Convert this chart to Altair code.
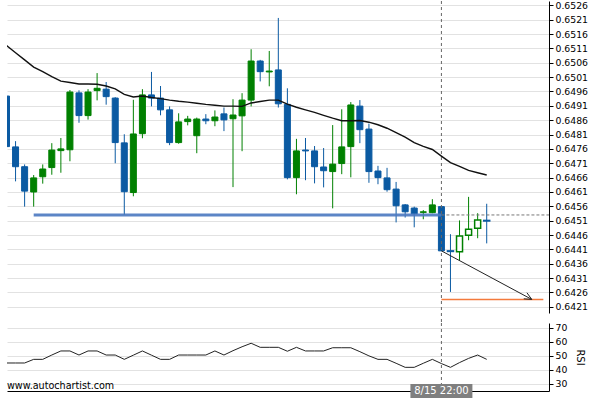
import altair as alt
import pandas as pd

# ---- data ----
opens = [0.64944, 0.64767, 0.64698, 0.64610, 0.64663, 0.64695, 0.64754, 0.64757, 0.64955, 0.64876,
         0.64963, 0.64968, 0.64937, 0.64781, 0.64608, 0.64813, 0.64948, 0.64937, 0.64896, 0.64782,
         0.64855, 0.64806, 0.64864, 0.64858, 0.64882, 0.64865, 0.64875, 0.64930, 0.65066, 0.65028,
         0.65035, 0.64915, 0.64660, 0.64756, 0.64753, 0.64697, 0.64681, 0.64709, 0.64768, 0.64909,
         0.64829, 0.64683, 0.64659, 0.64620, 0.64565, 0.64554, 0.64539, 0.64538, 0.64559, 0.64405,
         0.64402, 0.64459, 0.64484, 0.64511]
closes = [0.64768, 0.64698, 0.64613, 0.64659, 0.64690, 0.64756, 0.64760, 0.64958, 0.64876, 0.64958,
          0.64971, 0.64942, 0.64782, 0.64611, 0.64812, 0.64948, 0.64937, 0.64896, 0.64782, 0.64854,
          0.64864, 0.64864, 0.64858, 0.64871, 0.64861, 0.64878, 0.64930, 0.65066, 0.65029, 0.65031,
          0.64917, 0.64660, 0.64753, 0.64753, 0.64698, 0.64684, 0.64707, 0.64767, 0.64913, 0.64827,
          0.64681, 0.64660, 0.64618, 0.64562, 0.64541, 0.64534, 0.64541, 0.64565, 0.64405, 0.64403,
          0.64457, 0.64480, 0.64512, 0.64509]
highs = [0.64946, 0.64787, 0.64706, 0.64669, 0.64706, 0.64780, 0.64798, 0.64965, 0.64964, 0.64968,
         0.65024, 0.64993, 0.64940, 0.64811, 0.64931, 0.64968, 0.65028, 0.64979, 0.64908, 0.64884,
         0.64875, 0.64869, 0.64881, 0.64894, 0.64904, 0.64933, 0.64954, 0.65107, 0.65070, 0.65101,
         0.65216, 0.64971, 0.64795, 0.64798, 0.64770, 0.64763, 0.64843, 0.64898, 0.64923, 0.64930,
         0.64848, 0.64701, 0.64694, 0.64645, 0.64568, 0.64559, 0.64547, 0.64585, 0.64559, 0.64463,
         0.64511, 0.64593, 0.64536, 0.64569]
lows = [0.64766, 0.64647, 0.64559, 0.64559, 0.64639, 0.64670, 0.64677, 0.64717, 0.64851, 0.64862,
        0.64929, 0.64914, 0.64710, 0.64530, 0.64595, 0.64797, 0.64908, 0.64877, 0.64773, 0.64778,
        0.64842, 0.64745, 0.64846, 0.64839, 0.64822, 0.64627, 0.64752, 0.64908, 0.64995, 0.64978,
        0.64904, 0.64654, 0.64602, 0.64651, 0.64640, 0.64626, 0.64553, 0.64672, 0.64661, 0.64780,
        0.64642, 0.64637, 0.64611, 0.64504, 0.64521, 0.64487, 0.64515, 0.64536, 0.64405, 0.64262,
        0.64372, 0.64442, 0.64449, 0.64431]
moving_avg = [0.65120, 0.65095, 0.65070, 0.65045, 0.65029, 0.65012, 0.64996, 0.64991, 0.64986, 0.64986,
              0.64985, 0.64979, 0.64969, 0.64950, 0.64941, 0.64944, 0.64939, 0.64935, 0.64930, 0.64926,
              0.64923, 0.64919, 0.64915, 0.64912, 0.64909, 0.64909, 0.64908, 0.64920, 0.64925, 0.64930,
              0.64930, 0.64916, 0.64905, 0.64896, 0.64887, 0.64877, 0.64867, 0.64858, 0.64858, 0.64859,
              0.64853, 0.64844, 0.64832, 0.64817, 0.64801, 0.64782, 0.64769, 0.64758, 0.64735, 0.64712,
              0.64699, 0.64685, 0.64677, 0.64669]
rsi = [45.0, 45.0, 45.0, 47.6, 47.6, 50.7, 53.6, 53.6, 50.7, 53.6,
       53.6, 50.7, 50.7, 47.6, 50.6, 53.6, 50.6, 47.6, 47.6, 50.7,
       50.7, 50.7, 50.7, 53.6, 50.7, 53.8, 56.6, 59.1, 56.2, 56.2,
       56.2, 53.4, 56.2, 53.6, 53.6, 53.6, 55.9, 55.9, 55.9, 53.1,
       50.1, 47.6, 47.6, 44.8, 41.9, 41.9, 44.8, 47.6, 44.6, 41.9,
       45.3, 48.3, 50.7, 47.6]

signal_index = 48
time_label = "8/15 22:00"
support_level = 0.64530
support_start = 3
target_level = 0.64236
target_end = 59.25
arrow_start = (48, 0.64405)
arrow_end = (57.97, 0.64236)
arrow_wings = [(57.44, 0.64259), (57.09, 0.64238)]
watermark = "www.autochartist.com"

price_ticks = [0.6421, 0.6426, 0.6431, 0.6436, 0.6441, 0.6446, 0.6451, 0.6456, 0.6461, 0.6466, 0.6471,
               0.6476, 0.6481, 0.6486, 0.6491, 0.6496, 0.6501, 0.6506, 0.6511, 0.6516, 0.6521, 0.6526]
rsi_ticks = [30, 40, 50, 60, 70]

# ---- styling ----
BLUE = "#0b5aa2"
GREEN = "#008000"
FONT = "DejaVu Sans"
X_DOMAIN = [0.055, 59.875]
P_DOMAIN = [0.641886, 0.65275]
R_DOMAIN = [25, 73.57]
W = 542
H_PRICE = 312
H_RSI = 68

n = len(opens)
df = pd.DataFrame({
    "i": list(range(n)), "open": opens, "high": highs, "low": lows, "close": closes,
    "ma": moving_avg, "rsi": rsi,
})
df["dir"] = ["up" if c >= o else "down" for o, c in zip(opens, closes)]
df["blo"] = df[["open", "close"]].min(axis=1)
df["bhi"] = df[["open", "close"]].max(axis=1)
df["hollow"] = df["i"] > signal_index

xs = alt.Scale(domain=X_DOMAIN, nice=False, zero=False, padding=0)
ys = alt.Scale(domain=P_DOMAIN, nice=False, zero=False, padding=0)
rs = alt.Scale(domain=R_DOMAIN, nice=False, zero=False, padding=0)
col = alt.Scale(domain=["up", "down"], range=[GREEN, BLUE])

price_axis = alt.Axis(orient="right", values=price_ticks, format=".4f", grid=True,
                      gridColor="#e2e2e2", gridWidth=1, tickSize=4, labelPadding=2,
                      domainColor="black", tickColor="black", labelColor="black",
                      labelFontSize=9.3, labelFont=FONT, title=None, labelOverlap=False)
X_none = lambda f: alt.X(f, scale=xs, axis=None)
Yp = lambda f: alt.Y(f, scale=ys, axis=price_axis)

wicks = alt.Chart(df).mark_rule(strokeWidth=1, clip=True).encode(
    x=X_none("i:Q"), y=Yp("low:Q"), y2="high:Q",
    color=alt.Color("dir:N", scale=col, legend=None))

bodies = alt.Chart(df[~df["hollow"]]).mark_bar(size=6, strokeWidth=1, clip=True).encode(
    x=X_none("i:Q"), y=Yp("blo:Q"), y2="bhi:Q",
    fill=alt.Fill("dir:N", scale=col, legend=None),
    stroke=alt.Stroke("dir:N", scale=col, legend=None))

hollow = alt.Chart(df[df["hollow"]]).mark_bar(size=6, strokeWidth=1.5, fill="white", clip=True).encode(
    x=X_none("i:Q"), y=Yp("blo:Q"), y2="bhi:Q",
    stroke=alt.Stroke("dir:N", scale=col, legend=None))

ma_line = alt.Chart(df).mark_line(color="#111111", strokeWidth=1.4, clip=True).encode(
    x=X_none("i:Q"), y=Yp("ma:Q"))

levels = pd.DataFrame({
    "x0": [support_start, signal_index, signal_index],
    "x1": [signal_index, X_DOMAIN[1], target_end],
    "y": [support_level, support_level, target_level],
    "kind": ["support", "projection", "target"],
})
support = alt.Chart(levels[levels.kind == "support"]).mark_rule(
    color="#4a78c0", strokeWidth=3, opacity=0.9).encode(
    x=X_none("x0:Q"), x2="x1:Q", y=Yp("y:Q"))
projection = alt.Chart(levels[levels.kind == "projection"]).mark_rule(
    color="#777777", strokeWidth=1, strokeDash=[3, 2]).encode(
    x=X_none("x0:Q"), x2="x1:Q", y=Yp("y:Q"))
target = alt.Chart(levels[levels.kind == "target"]).mark_rule(
    color="#f47a3c", strokeWidth=1.5).encode(
    x=X_none("x0:Q"), x2="x1:Q", y=Yp("y:Q"))

arrow_df = pd.DataFrame({
    "x0": [arrow_start[0], arrow_wings[0][0], arrow_wings[1][0]],
    "y0": [arrow_start[1], arrow_wings[0][1], arrow_wings[1][1]],
    "x1": [arrow_end[0]] * 3,
    "y1": [arrow_end[1]] * 3,
})
arrow = alt.Chart(arrow_df).mark_rule(color="#222222", strokeWidth=1).encode(
    x=X_none("x0:Q"), x2="x1:Q", y=Yp("y0:Q"), y2="y1:Q")

sig = pd.DataFrame({"x": [signal_index], "t": [time_label]})
vline_top = alt.Chart(sig).mark_rule(color="#666666", strokeWidth=1, strokeDash=[3, 3], clip=False).encode(
    x=X_none("x:Q"), y=alt.value(0), y2=alt.value(H_PRICE + 10))

price = alt.layer(wicks, bodies, hollow, ma_line, support, projection, target, arrow, vline_top).properties(
    width=W, height=H_PRICE)

# ---- RSI panel ----
rsi_axis = alt.Axis(orient="right", values=rsi_ticks, grid=True, gridColor="#e2e2e2", tickSize=4,
                    labelPadding=2, domainColor="black", tickColor="black", labelColor="black",
                    labelFontSize=9.3, labelFont=FONT, title="RSI", titleFont=FONT, titleFontSize=10,
                    titleFontWeight="normal", titleColor="black", titlePadding=8)
bottom_x = alt.Axis(labels=False, ticks=False, grid=False, domainColor="black", title=None)

rsi_line = alt.Chart(df).mark_line(color="#222222", strokeWidth=1, clip=True).encode(
    x=alt.X("i:Q", scale=xs, axis=bottom_x), y=alt.Y("rsi:Q", scale=rs, axis=rsi_axis))
vline_bot = alt.Chart(sig).mark_rule(color="#666666", strokeWidth=1, strokeDash=[3, 3]).encode(
    x=alt.X("x:Q", scale=xs, axis=bottom_x))
label_box = alt.Chart(sig).mark_rect(width=62, height=14, color="#7f7f7f", clip=False).encode(
    x=alt.X("x:Q", scale=xs, axis=bottom_x), y=alt.value(H_RSI))
label_txt = alt.Chart(sig).mark_text(color="white", fontSize=10, font=FONT, baseline="middle",
                                     align="center", clip=False).encode(
    x=alt.X("x:Q", scale=xs, axis=bottom_x), y=alt.value(H_RSI), text="t:N")
wm = alt.Chart(pd.DataFrame({"t": [watermark]})).mark_text(
    align="left", baseline="alphabetic", fontSize=9.6, font=FONT, color="black").encode(
    x=alt.value(0), y=alt.value(H_RSI - 2), text="t:N")

rsi_panel = alt.layer(rsi_line, vline_bot, wm, label_box, label_txt).properties(width=W, height=H_RSI)

chart = alt.vconcat(price, rsi_panel, spacing=10, bounds="flush").properties(
    padding={"left": 7, "top": 0, "right": 0, "bottom": 0},
    background="white",
).configure_view(stroke=None)

chart.save("out.html", embed_options={"renderer": "svg", "actions": False})
